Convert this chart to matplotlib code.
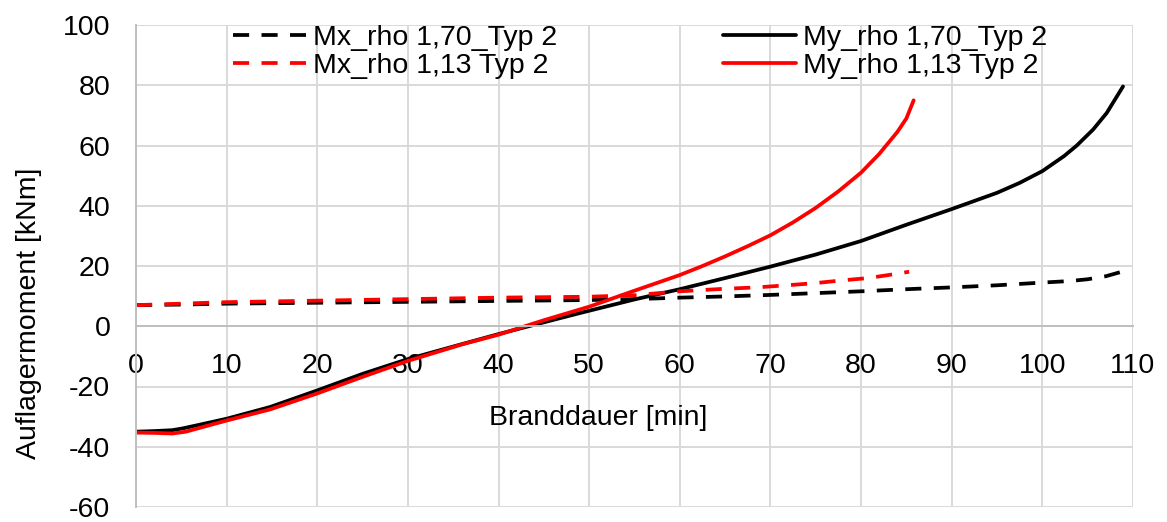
import matplotlib
matplotlib.use("Agg")
import matplotlib.pyplot as plt

plt.rcParams['font.family'] = ['Liberation Sans', 'DejaVu Sans']
plt.rcParams['axes.unicode_minus'] = False

# Data (time in min, moment in kNm)
t_mx170 = [0, 5, 10, 20, 30, 40, 50, 55, 60, 65, 70, 75, 80, 85, 90, 95, 100, 103, 105, 107, 109]
mx170 = [7.0, 7.2, 7.5, 7.8, 8.1, 8.4, 8.7, 9.0, 9.5, 9.9, 10.4, 11.0, 11.6, 12.3, 12.9, 13.6, 14.5, 15.0, 15.6, 16.6, 18.3]

t_my170 = [0, 2, 4, 5, 6.7, 10, 14.8, 20, 25, 30, 36, 40, 45, 49, 55, 60, 65, 70, 75, 80, 85, 90, 95, 97.5, 100,
           102.4, 103.8, 105.6, 107.1, 108.9]
my170 = [-35.0, -34.8, -34.5, -34.0, -32.9, -30.7, -26.8, -21.3, -15.8, -10.9, -5.9, -2.6, 1.3, 4.4, 8.9, 12.3, 16.0, 19.8,
         23.8, 28.3, 33.7, 38.9, 44.3, 47.6, 51.5, 56.5, 60.0, 65.3, 70.8, 79.6]

t_mx113 = [0, 5, 10, 20, 30, 40, 50, 55, 60, 64.7, 68.5, 71.8, 74.9, 77.8, 80.8, 83.9, 85.3]
mx113 = [7.0, 7.5, 8.0, 8.5, 9.0, 9.5, 9.8, 10.3, 11.6, 12.4, 12.9, 13.6, 14.3, 15.2, 16.0, 17.4, 18.1]

t_my113 = [0, 2, 4, 5.5, 6.7, 10, 14.8, 20, 25, 30, 36, 40, 45, 50, 54.8, 60, 62.5, 65, 67.5, 70, 72.5, 75, 77.5,
           80, 82, 84, 85, 85.8]
my113 = [-35.3, -35.4, -35.6, -35.0, -34.0, -31.3, -27.6, -22.3, -16.8, -11.5, -6.0, -2.8, 2.0, 6.5, 11.6, 17.0, 20.0,
         23.2, 26.6, 30.2, 34.5, 39.3, 44.8, 51.0, 57.2, 64.5, 69.0, 75.0]

labels = ["Mx_rho 1,70_Typ 2", "My_rho 1,70_Typ 2", "Mx_rho 1,13 Typ 2", "My_rho 1,13 Typ 2"]

xticks = list(range(0, 111, 10))
yticks = list(range(-60, 101, 20))

FS = 20.5
W, H = 1167, 522
fig = plt.figure(figsize=(W / 100, H / 100), dpi=100)
ax = fig.add_axes([136 / W, 1 - 507 / H, (1133 - 136) / W, (507 - 25) / H])

lw = 2.7
dash = (4.3, 3.3)
l1, = ax.plot(t_mx170, mx170, color='black', lw=lw, ls=(0, dash), dash_capstyle='butt',
              solid_joinstyle='round', label=labels[0])
l2, = ax.plot(t_my170, my170, color='black', lw=lw, solid_joinstyle='round', solid_capstyle='round',
              label=labels[1])
l3, = ax.plot(t_mx113, mx113, color='#ff0000', lw=lw, ls=(0, dash), dash_capstyle='butt',
              label=labels[2])
l4, = ax.plot(t_my113, my113, color='#ff0000', lw=lw, solid_joinstyle='round', solid_capstyle='round',
              label=labels[3])

ax.set_xlim(0, 110)
ax.set_ylim(-60, 100)
ax.set_xticks(xticks)
ax.set_yticks(yticks)
ax.grid(True, color='#d9d9d9', lw=1.4)
ax.set_axisbelow(True)

for s in ['top', 'right']:
    ax.spines[s].set_visible(False)
ax.spines['left'].set_color('#bfbfbf')
ax.spines['left'].set_linewidth(1.4)
ax.spines['bottom'].set_position(('data', 0))
ax.spines['bottom'].set_color('#bfbfbf')
ax.spines['bottom'].set_linewidth(1.4)
ax.tick_params(axis='both', length=0, labelsize=FS)
ax.tick_params(axis='x', pad=19.2)
ax.tick_params(axis='y', pad=18.5)

ax.set_xlabel("Branddauer [min]", fontsize=FS)
ax.xaxis.set_label_coords(0.464, 0.212)
ax.set_ylabel("Auflagermoment [kNm]", fontsize=FS)
ax.yaxis.set_label_coords(-0.094, 0.402)

leg = fig.legend(handles=[l1, l3, l2, l4], ncol=2, loc='upper left',
                 bbox_to_anchor=(233 / W, 1 - 25 / H), bbox_transform=fig.transFigure,
                 frameon=False, fontsize=FS, borderpad=0, borderaxespad=0,
                 handlelength=2.55, handletextpad=0.25, columnspacing=5.85,
                 labelspacing=0.08)

fig.savefig("out.png", dpi=100)
